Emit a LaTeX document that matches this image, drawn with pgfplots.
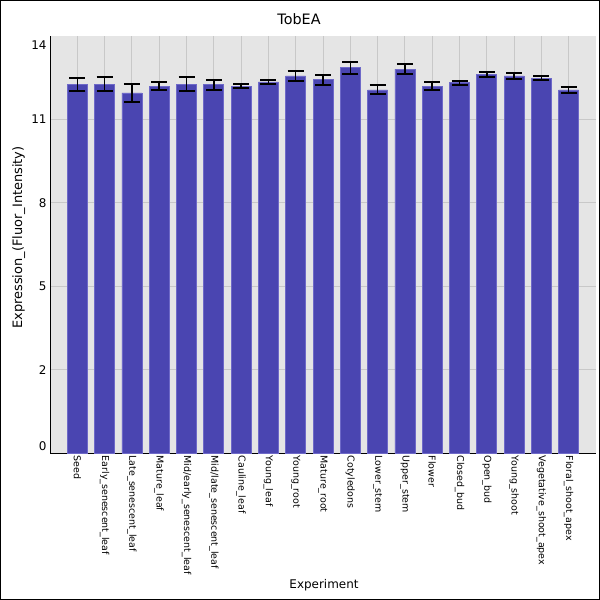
\documentclass[border=0pt]{standalone}
\usepackage{pgfplots}
\pgfplotsset{compat=1.18}
\usepackage{fontspec}
\setmainfont{DejaVu Sans}
\definecolor{barfill}{RGB}{74,69,177}
\definecolor{baredge}{RGB}{110,105,200}
\definecolor{bggray}{RGB}{229,229,229}
\definecolor{gridgray}{RGB}{200,200,200}
\begin{document}
\begin{tikzpicture}[x=1bp,y=1bp]
\useasboundingbox (0,0) rectangle (600,600);
\begin{axis}[
  at={(50bp,146.5bp)}, anchor=south west,
  scale only axis, width=546bp, height=417.5bp,
  xmin=0, xmax=20, ymin=0, ymax=14,
  axis x line=bottom, axis y line=left,
  axis line style={-, black, line width=1bp},
  axis background/.style={fill=bggray},
  major tick length=0pt,
  xtick={1,...,19},
  xticklabels={Seed,Early\_senescent\_leaf,Late\_senescent\_leaf,Mature\_leaf,Mid/early\_senescent\_leaf,Mid/late\_senescent\_leaf,Cauline\_leaf,Young\_leaf,Young\_root,Mature\_root,Cotyledons,Lower\_stem,Upper\_stem,Flower,Closed\_bud,Open\_bud,Young\_shoot,Vegetative\_shoot\_apex,Floral\_shoot\_apex},
  xticklabel style={rotate=-90, anchor=west, font=\fontsize{9.5}{10}\selectfont, inner sep=2bp},
  ytick={2.8,5.6,8.4,11.2},
  yticklabels={2,5,8,11},
  extra y ticks={0.23,13.68},
  extra y tick labels={0,14},
  extra y tick style={grid=none},
  yticklabel style={font=\fontsize{12}{13}\selectfont},
  /pgf/number format/assume math mode=true,
  xmajorgrids, ymajorgrids,
  grid style={gridgray, line width=1bp},
  ybar, bar width=20bp,
]
\addplot[fill=barfill, draw=baredge, line width=0.8bp,
  error bars/.cd, y dir=both, y explicit,
  error bar style={black, line width=1.5bp},
  error mark options={rotate=90, mark size=8bp, line width=2bp, black}]
coordinates {
(1,12.36) +- (0,0.22)
(2,12.39) +- (0,0.24)
(3,12.09) +- (0,0.30)
(4,12.32) +- (0,0.13)
(5,12.39) +- (0,0.22)
(6,12.36) +- (0,0.18)
(7,12.32) +- (0,0.07)
(8,12.46) +- (0,0.07)
(9,12.66) +- (0,0.17)
(10,12.53) +- (0,0.17)
(11,12.93) +- (0,0.20)
(12,12.19) +- (0,0.15)
(13,12.89) +- (0,0.17)
(14,12.32) +- (0,0.13)
(15,12.43) +- (0,0.07)
(16,12.70) +- (0,0.08)
(17,12.66) +- (0,0.10)
(18,12.59) +- (0,0.08)
(19,12.19) +- (0,0.09)
};
\end{axis}
\node[anchor=base, font=\fontsize{14.4}{15}\selectfont, inner sep=0] at (299,575) {TobEA};
\node[anchor=base, font=\fontsize{12}{13}\selectfont, inner sep=0] at (324,11) {Experiment};
\node[anchor=base, rotate=90, font=\fontsize{13}{14}\selectfont, inner sep=0] at (22,362.5) {Expression\_(Fluor\_Intensity)};
\draw[black, line width=1bp] (0.5,0.5) rectangle (599.5,599.5);
\end{tikzpicture}
\end{document}
